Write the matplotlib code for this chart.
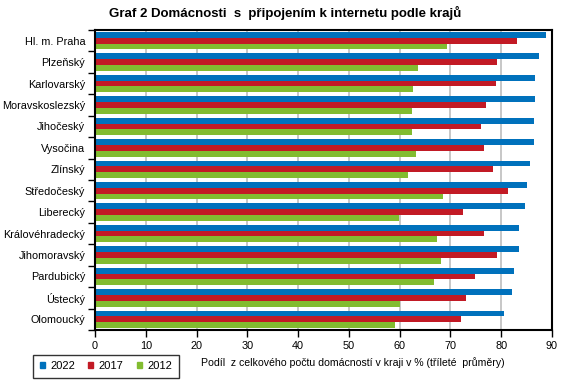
# Graf 2 Domácnosti s připojením k internetu podle krajů
import numpy as np
import matplotlib
matplotlib.use("Agg")
from matplotlib import pyplot as plt
from matplotlib.patches import Patch

plt.rcParams['font.family'] = ['Liberation Sans', 'DejaVu Sans']

# data (shora dolů)
kraje = ["Hl. m. Praha", "Plzeňský", "Karlovarský", "Moravskoslezský", "Jihočeský",
         "Vysočina", "Zlínský", "Středočeský", "Liberecký", "Královéhradecký",
         "Jihomoravský", "Pardubický", "Ústecký", "Olomoucký"]
v2022 = [88.8, 87.4, 86.6, 86.6, 86.4, 86.4, 85.6, 85.0, 84.7, 83.5, 83.5, 82.5, 82.1, 80.5]
v2017 = [83.1, 79.1, 78.9, 77.0, 76.0, 76.6, 78.4, 81.3, 72.5, 76.6, 79.1, 74.8, 73.1, 72.1]
v2012 = [69.3, 63.7, 62.7, 62.5, 62.5, 63.3, 61.7, 68.6, 59.9, 67.4, 68.2, 66.8, 60.1, 59.1]
roky = ["2022", "2017", "2012"]
barvy = ["#0071BC", "#C21A25", "#82BC30"]

fig = plt.figure(figsize=(5.67, 3.80), dpi=100)
ax = fig.add_axes([95 / 567, 50 / 380, 457 / 567, 300 / 380])

n = len(kraje)
y = np.arange(n)
h = 0.27
for i, (vals, c) in enumerate(zip([v2022, v2017, v2012], barvy)):
    ax.barh(y + (i - 1) * h, vals, height=h, color=c, zorder=2)

ax.set_ylim(n - 0.5, -0.5)
ax.set_xlim(0, 90)
ax.set_xticks(np.arange(0, 91, 10))
ax.grid(axis='x', color='#BEBEBE', linewidth=1.2, zorder=0)

ax.set_yticks(y)
ax.set_yticklabels(kraje, fontsize=7.8)
ax.set_yticks(np.arange(-0.5, n, 1), minor=True)
ax.tick_params(axis='y', which='major', length=0, pad=7)
ax.tick_params(axis='y', which='minor', length=5, width=1, direction='out')
ax.tick_params(axis='x', length=5, width=1, direction='out', labelsize=7.8, pad=3)

for s in ax.spines.values():
    s.set_linewidth(1.5)
    s.set_color('black')

fig.text(0.503, 0.966, "Graf 2 Domácnosti  s  připojením k internetu podle krajů",
         ha='center', va='center', fontsize=9.5, fontweight='bold')
fig.text(0.622, 0.047, "Podíl  z celkového počtu domácností v kraji v % (tříleté  průměry)",
         ha='center', va='center', fontsize=7.6)

handles = [Patch(facecolor=c, edgecolor=c) for c in barvy]
leg = fig.legend(handles, roky, loc='center', bbox_to_anchor=(106 / 567, 0.036),
                 ncol=3, fontsize=8, frameon=True, fancybox=False,
                 handlelength=0.45, handleheight=0.45, handletextpad=0.5,
                 columnspacing=1.2, borderpad=0.6)
leg.get_frame().set_edgecolor('black')
leg.get_frame().set_linewidth(1)

fig.savefig("out.png", dpi=100)
